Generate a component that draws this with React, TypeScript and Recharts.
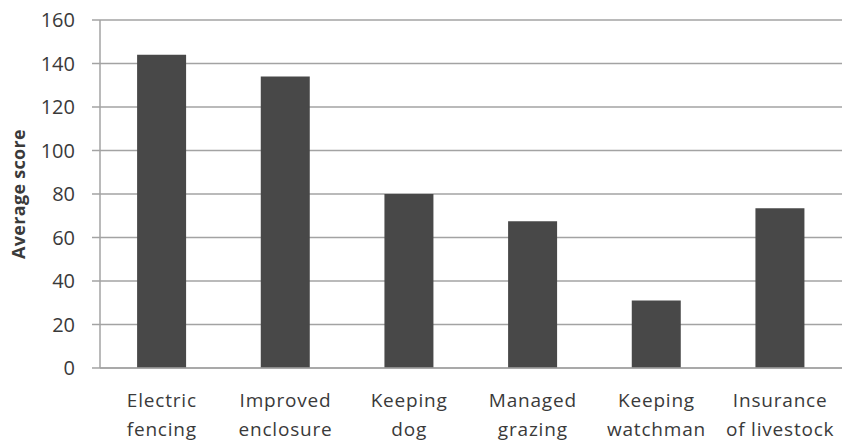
import React from 'react';
import { BarChart, Bar, XAxis, YAxis, CartesianGrid } from 'recharts';

// Predator-control methods and their average score
const categories: string[] = [
  'Electric\nfencing',
  'Improved\nenclosure',
  'Keeping\ndog',
  'Managed\ngrazing',
  'Keeping\nwatchman',
  'Insurance\nof livestock',
];
const scores: number[] = [144, 134, 80, 67.5, 31, 73.5];
const yTicks: number[] = [0, 20, 40, 60, 80, 100, 120, 140, 160];
// category boundaries, used for the tick marks between the bars
const edgeTicks: number[] = [0, 1, 2, 3, 4, 5, 6];

const data = categories.map((name, i) => ({ name, score: scores[i] }));

const FONT = '"Open Sans", "Liberation Sans", sans-serif';
const GRID = '#a3a3a3';
const TEXT = '#3a3a3a';

const CategoryTick = (props: any) => {
  const { x, y, payload } = props;
  const lines = String(payload.value).split('\n');
  return (
    <g>
      {lines.map((line, i) => (
        <text
          key={i}
          x={x}
          y={y + 39 + i * 29}
          textAnchor="middle"
          fontFamily={FONT}
          fontSize={19}
          letterSpacing={0.8}
          fill={TEXT}
        >
          {line}
        </text>
      ))}
    </g>
  );
};

const YTitle = (props: any) => {
  const { viewBox } = props;
  const cx = viewBox.x + 18;
  const cy = viewBox.y + viewBox.height / 2;
  return (
    <text
      x={cx}
      y={cy}
      transform={`rotate(-90, ${cx}, ${cy})`}
      textAnchor="middle"
      dominantBaseline="central"
      fontFamily={FONT}
      fontSize={18}
      fontWeight={700}
      letterSpacing={0.3}
      fill={TEXT}
    >
      Average score
    </text>
  );
};

export default function App() {
  return (
    <div style={{ position: 'absolute', left: 0, top: 0, background: '#fff' }}>
      <BarChart
        width={843}
        height={441}
        data={data}
        margin={{ top: 20, right: 1, left: 0, bottom: 0 }}
        barCategoryGap="30%"
      >
        <CartesianGrid vertical={false} stroke={GRID} strokeWidth={1.5} />
        <XAxis
          xAxisId={0}
          type="number"
          domain={[0, 6]}
          allowDataOverflow
          ticks={edgeTicks}
          tick={false}
          axisLine={false}
          tickLine={{ stroke: GRID, strokeWidth: 1.5 }}
          tickSize={8}
          height={0.01}
        />
        <XAxis
          xAxisId="cat"
          dataKey="name"
          type="category"
          interval={0}
          height={73}
          tickLine={false}
          tickSize={0}
          tickMargin={0}
          axisLine={{ stroke: GRID, strokeWidth: 1.5 }}
          tick={<CategoryTick />}
        />
        <YAxis
          width={100}
          domain={[0, 160]}
          ticks={yTicks}
          interval={0}
          tickSize={8}
          tickMargin={17}
          axisLine={{ stroke: GRID, strokeWidth: 1.5 }}
          tickLine={{ stroke: GRID, strokeWidth: 1.5 }}
          tick={{ fontFamily: FONT, fontSize: 20, fill: TEXT }}
          label={{ content: <YTitle /> }}
        />
        <Bar xAxisId="cat" dataKey="score" fill="#484848" isAnimationActive={false} />
      </BarChart>
    </div>
  );
}
